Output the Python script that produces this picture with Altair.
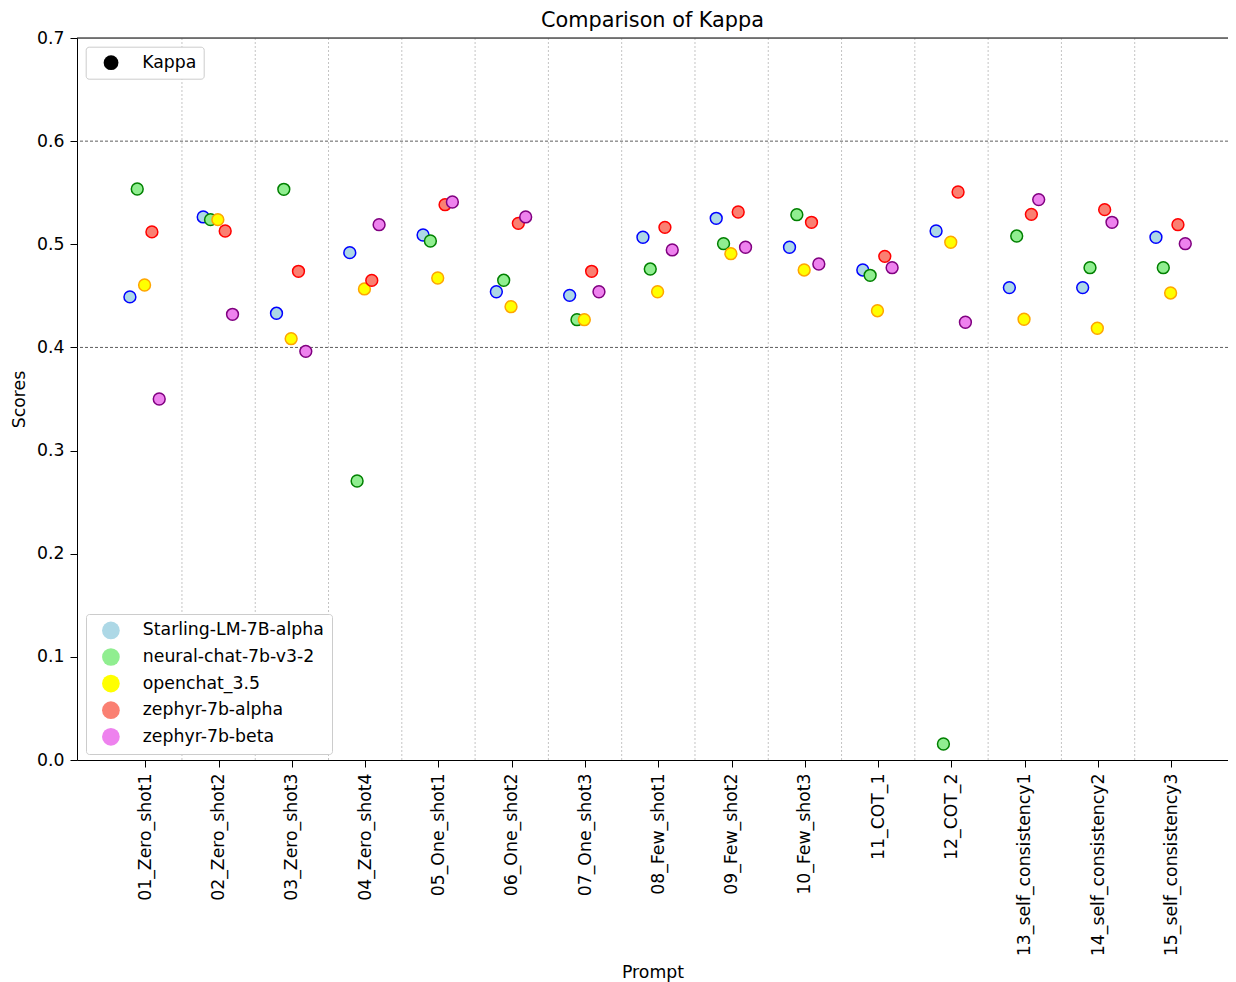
import altair as alt
import pandas as pd

prompts = [
    "01_Zero_shot1", "02_Zero_shot2", "03_Zero_shot3", "04_Zero_shot4",
    "05_One_shot1", "06_One_shot2", "07_One_shot3", "08_Few_shot1",
    "09_Few_shot2", "10_Few_shot3", "11_COT_1", "12_COT_2",
    "13_self_consistency1", "14_self_consistency2", "15_self_consistency3",
]
models = ["Starling-LM-7B-alpha", "neural-chat-7b-v3-2", "openchat_3.5",
          "zephyr-7b-alpha", "zephyr-7b-beta"]

starling = [0.449, 0.5265, 0.4331, 0.4919, 0.509, 0.454, 0.4505, 0.5068,
            0.5252, 0.4971, 0.4751, 0.5129, 0.458, 0.458, 0.5068]
neural = [0.5536, 0.5239, 0.5533, 0.2705, 0.5032, 0.4651, 0.4269, 0.476,
          0.5006, 0.5287, 0.4699, 0.0155, 0.508, 0.4773, 0.4773]
openchat = [0.4605, 0.5239, 0.4085, 0.4567, 0.4673, 0.4395, 0.4269, 0.454,
            0.4909, 0.4751, 0.4356, 0.502, 0.4273, 0.4186, 0.4528]
zephyr_alpha = [0.512, 0.5129, 0.4738, 0.465, 0.5384, 0.5203, 0.4738, 0.5164,
                0.5313, 0.5213, 0.4883, 0.5507, 0.529, 0.5336, 0.519]
zephyr_beta = [0.350, 0.4321, 0.3962, 0.519, 0.541, 0.5265, 0.454, 0.4945,
               0.4971, 0.4809, 0.4773, 0.4244, 0.5433, 0.5213, 0.5006]

fill_colors = ["lightblue", "lightgreen", "yellow", "salmon", "violet"]
edge_colors = ["blue", "green", "orange", "red", "purple"]
ref_lines = [0.4, 0.6]
y_ticks = [0.0, 0.1, 0.2, 0.3, 0.4, 0.5, 0.6, 0.7]

DODGE = 0.1
SHIFT = -0.01
series = [starling, neural, openchat, zephyr_alpha, zephyr_beta]
rows = []
for mi, (m, vals) in enumerate(zip(models, series)):
    for pi, (p, v) in enumerate(zip(prompts, vals)):
        rows.append({"prompt": p, "model": m, "series_order": mi,
                     "pos": pi + (mi - 2) * DODGE + SHIFT, "score": v})
df = pd.DataFrame(rows)
bounds = pd.DataFrame({"b": [i + 0.5 for i in range(len(prompts) - 1)]})
hl = pd.DataFrame({"t": ref_lines})
top = pd.DataFrame({"t": [max(y_ticks)]})

FONT = "DejaVu Sans"
FS = 17.3
xscale = alt.Scale(domain=[-0.932, 14.773], nice=False, zero=False)
yscale = alt.Scale(domain=[0, 0.7], nice=False)

label_expr = "[" + ",".join("'%s'" % p for p in prompts) + "][datum.value]"

x_axis = alt.Axis(
    values=list(range(len(prompts))), labelExpr=label_expr, labelAngle=270,
    labelFlush=False, labelOverlap=False, labelLimit=400, grid=False, tickSize=7,
    labelPadding=6, labelFontSize=FS, labelFont=FONT, labelColor="black",
    domainColor="black", tickColor="black", title="Prompt", titleFontSize=FS,
    titleFont=FONT, titleFontWeight="normal", titleColor="black", titlePadding=8)
y_axis = alt.Axis(
    values=y_ticks, format=".1f", grid=False, tickSize=7, labelPadding=6,
    labelFontSize=FS, labelFont=FONT, labelColor="black", domainColor="black",
    tickColor="black", labelOverlap=False, title="Scores", titleFontSize=FS,
    titleFont=FONT, titleFontWeight="normal", titleColor="black", titlePadding=8)

vrules = alt.Chart(bounds).mark_rule(color="#c4c4c4", strokeDash=[2, 2], strokeWidth=1).encode(
    x=alt.X("b:Q", scale=xscale, axis=x_axis)
)
hrules = alt.Chart(hl).mark_rule(color="#333333", strokeDash=[3, 2], strokeWidth=0.8).encode(
    y=alt.Y("t:Q", scale=yscale, axis=y_axis)
)
top_spine = alt.Chart(top).mark_rule(color="black", strokeWidth=1.2).encode(
    y=alt.Y("t:Q", scale=yscale, axis=y_axis)
)

kappa = alt.Chart(df).transform_calculate(metric="'Kappa'").mark_point(
    filled=True, color="black", opacity=0, size=10
).encode(
    x=alt.X("pos:Q", scale=xscale, axis=x_axis),
    y=alt.Y("score:Q", scale=yscale, axis=y_axis),
    shape=alt.Shape("metric:N", scale=alt.Scale(domain=["Kappa"], range=["circle"]),
                    legend=alt.Legend(
                        title=None, orient="none", legendX=8.7, legendY=8.7,
                        symbolSize=219, symbolFillColor="black", symbolStrokeColor="black",
                        symbolStrokeWidth=0, symbolOpacity=1, labelFontSize=FS,
                        labelFont=FONT, labelColor="black", labelOffset=22.5,
                        symbolOffset=9.4, padding=7.3, fillColor="white",
                        strokeColor="#cccccc", cornerRadius=3)),
)

points = alt.Chart(df).mark_circle(size=140, strokeWidth=1.5, opacity=1).encode(
    x=alt.X("pos:Q", scale=xscale, axis=x_axis),
    y=alt.Y("score:Q", scale=yscale, axis=y_axis),
    fill=alt.Fill("model:N", scale=alt.Scale(domain=models, range=fill_colors),
                  legend=alt.Legend(
                      title=None, orient="none", legendX=9, legendY=576,
                      symbolType="circle", symbolSize=314, symbolStrokeWidth=0,
                      symbolOpacity=1, labelFontSize=FS, labelFont=FONT,
                      labelColor="black", labelLimit=400, labelOffset=22.9,
                      symbolOffset=8.5, padding=7.4, rowPadding=8.6,
                      fillColor="white", strokeColor="#cccccc", cornerRadius=3)),
    stroke=alt.Stroke("model:N", scale=alt.Scale(domain=models, range=edge_colors),
                      legend=None),
    order=alt.Order("series_order:Q"),
)

chart = alt.layer(vrules, hrules, top_spine, kappa, points).properties(
    width=1151, height=722,
    title=alt.TitleParams("Comparison of Kappa", fontSize=20.8, font=FONT,
                          fontWeight="normal", color="black", anchor="middle", offset=-3),
    autosize=alt.AutoSizeParams(type="none"),
    padding={"left": 69, "top": 30, "right": 0, "bottom": 222},
).configure_view(strokeWidth=0).configure(font=FONT)

chart.save("out.html", embed_options={"renderer": "svg", "actions": False})
